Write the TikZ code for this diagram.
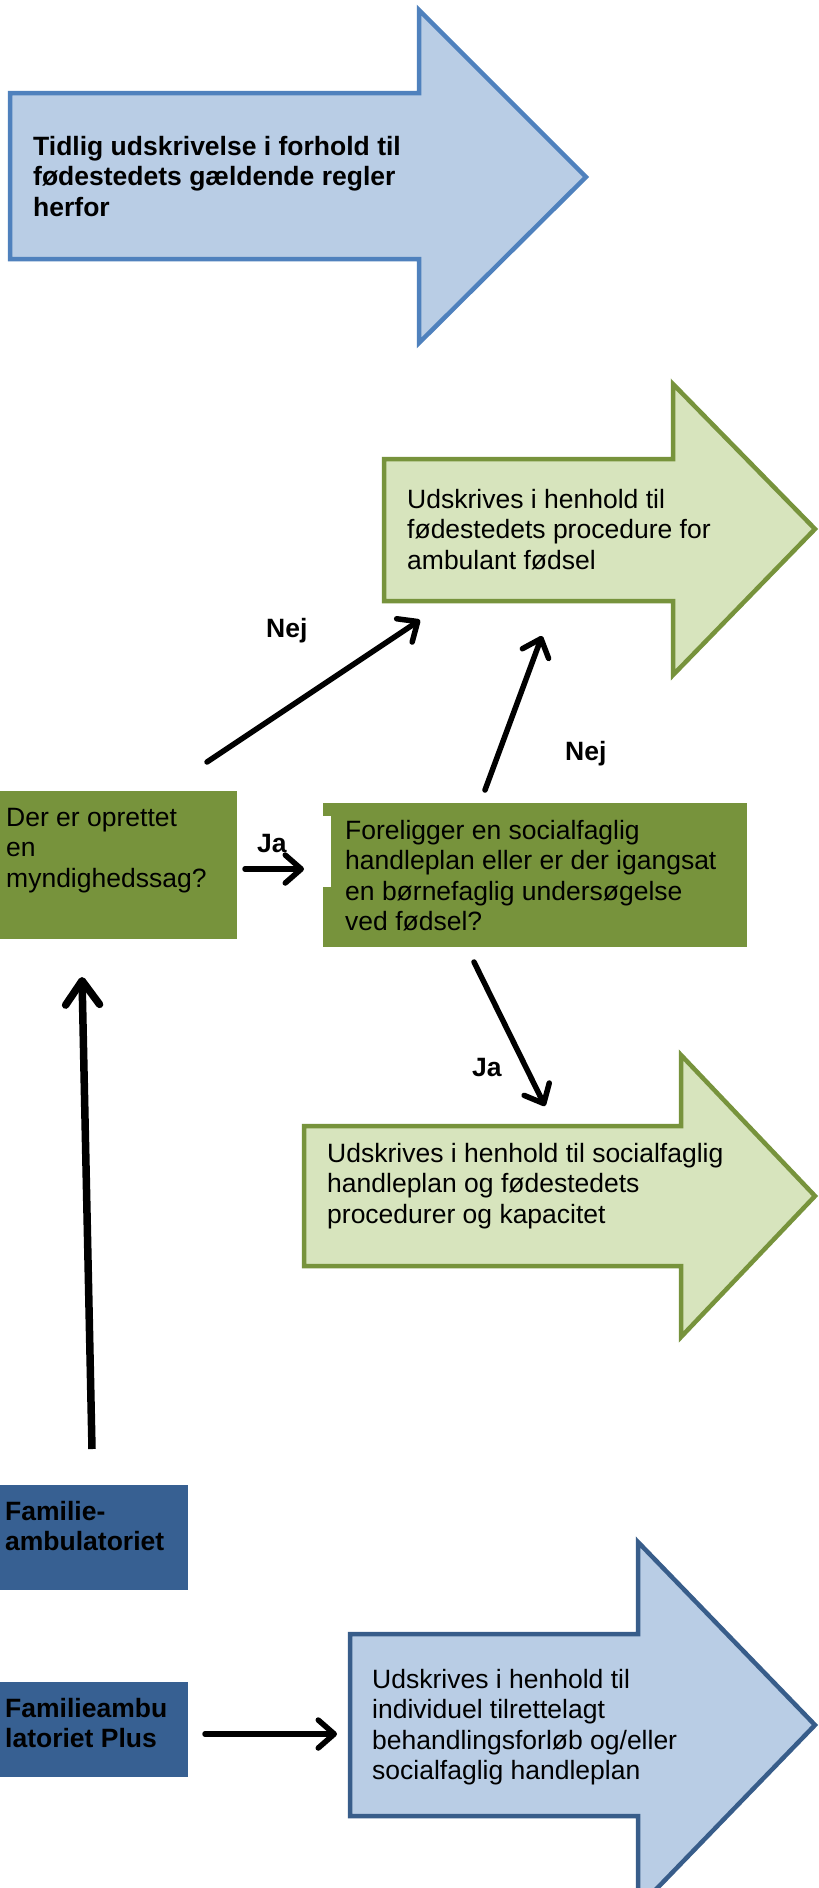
\documentclass[tikz,border=0pt]{standalone}
\usepackage{fontspec}
\setmainfont{Liberation Sans}
\usetikzlibrary{arrows.meta}
\definecolor{bluefill}{HTML}{B9CDE5}
\definecolor{bluestroke}{HTML}{4F81BD}
\definecolor{darkbluestroke}{HTML}{385D8A}
\definecolor{greenfill}{HTML}{D7E4BD}
\definecolor{greenstroke}{HTML}{77933C}
\definecolor{olivebox}{HTML}{77933C}
\definecolor{navybox}{HTML}{376092}
\newcommand{\txtlines}[1]{\begin{tabular}[t]{@{}l@{}}#1\end{tabular}}
\begin{document}
\begin{tikzpicture}[x=1pt,y=-1pt,
  txt/.style={inner sep=0pt, anchor=base west, font=\fontsize{26.5}{30.5}\selectfont},
  btxt/.style={inner sep=0pt, anchor=base west, font=\fontsize{26.5}{30.5}\selectfont\bfseries},
  arr/.style={line width=5.5pt, line cap=round, -{Straight Barb[length=16pt,width=28pt,round]}},
  bigarr/.style={line width=7.5pt, -{Straight Barb[length=24pt,width=34pt,round]}},
  bluearrow/.style={draw=bluestroke, fill=bluefill, line width=4.5pt, line join=miter},
  greenarrow/.style={draw=greenstroke, fill=greenfill, line width=4.5pt, line join=miter},
  navyarrow/.style={draw=darkbluestroke, fill=bluefill, line width=4.5pt, line join=miter},
  gbox/.style={fill=olivebox, draw=none, inner sep=0pt, anchor=north west},
  nbox/.style={fill=navybox, draw=none, inner sep=0pt, anchor=north west},
  wpatch/.style={fill=white, draw=none, inner sep=0pt, anchor=north west}
]
\clip (0,0) rectangle (819,1888);
\fill[white] (0,0) rectangle (819,1888);

% big arrow shapes
\draw[bluearrow] (10,93) -- (419,93) -- (419,10) -- (586,177) -- (419,343) -- (419,259) -- (10,259) -- cycle;
\draw[greenarrow] (384,459) -- (673,459) -- (673,384) -- (815,529) -- (673,675) -- (673,601) -- (384,601) -- cycle;
\draw[greenarrow] (304,1126) -- (681,1126) -- (681,1055) -- (815,1196) -- (681,1337) -- (681,1266) -- (304,1266) -- cycle;
\draw[navyarrow] (350,1634) -- (638,1634) -- (638,1542) -- (815,1725) -- (638,1908) -- (638,1816) -- (350,1816) -- cycle;

% boxes
\node[gbox, minimum width=237pt, minimum height=148pt] (q1) at (0,791) {};
\node[gbox, minimum width=424pt, minimum height=144pt] (q2) at (323,803) {};
\node[wpatch, minimum width=94pt, minimum height=71pt] (jabg) at (237,816) {};
\node[nbox, minimum width=188pt, minimum height=105pt] (fa) at (0,1485) {};
\node[nbox, minimum width=188pt, minimum height=95pt] (fap) at (0,1682) {};

% texts
\node[btxt] (t1) at (33,155) {\txtlines{Tidlig udskrivelse i forhold til\\fødestedets gældende regler\\herfor}};
\node[txt] (t2) at (407,508) {\txtlines{Udskrives i henhold til\\fødestedets procedure for\\ambulant fødsel}};
\node[txt] (tq1) at (6,826) {\txtlines{Der er oprettet\\en\\myndighedssag?}};
\node[txt] (tq2) at (345,839) {\txtlines{Foreligger en socialfaglig\\handleplan eller er der igangsat\\en børnefaglig undersøgelse\\ved fødsel?}};
\node[txt] (t3) at (327,1162) {\txtlines{Udskrives i henhold til socialfaglig\\handleplan og fødestedets\\procedurer og kapacitet}};
\node[txt] (t4) at (372,1688) {\txtlines{Udskrives i henhold til\\individuel tilrettelagt\\behandlingsforløb og/eller\\socialfaglig handleplan}};
\node[btxt] (tfa) at (5,1520) {\txtlines{Familie-\\ambulatoriet}};
\node[btxt] (tfap) at (5,1717) {\txtlines{Familieambu\\latoriet Plus}};

% labels
\node[btxt] (ja1) at (257,852) {Ja};
\node[btxt] (nej1) at (266,637) {Nej};
\node[btxt] (nej2) at (565,760) {Nej};
\node[btxt] (ja2) at (472,1076) {Ja};

% connector end points
\coordinate (n1s) at (207,762);
\coordinate (n1e) at (420,620);
\coordinate (n2s) at (485,790);
\coordinate (n2e) at (542,636);
\coordinate (j2s) at (474,962);
\coordinate (j2e) at (545,1106);
\coordinate (j1s) at (245,869);
\coordinate (j1e) at (304,869);
\coordinate (vs) at (92,1449);
\coordinate (ve) at (82,977);
\coordinate (ps) at (205,1734);
\coordinate (pe) at (337,1734);

% connectors
\draw[arr] (n1s) -- (n1e);
\draw[arr] (n2s) -- (n2e);
\draw[arr] (j2s) -- (j2e);
\draw[arr] (j1s) -- (j1e);
\draw[bigarr] (vs) -- (ve);
\draw[arr] (ps) -- (pe);
\end{tikzpicture}
\end{document}
